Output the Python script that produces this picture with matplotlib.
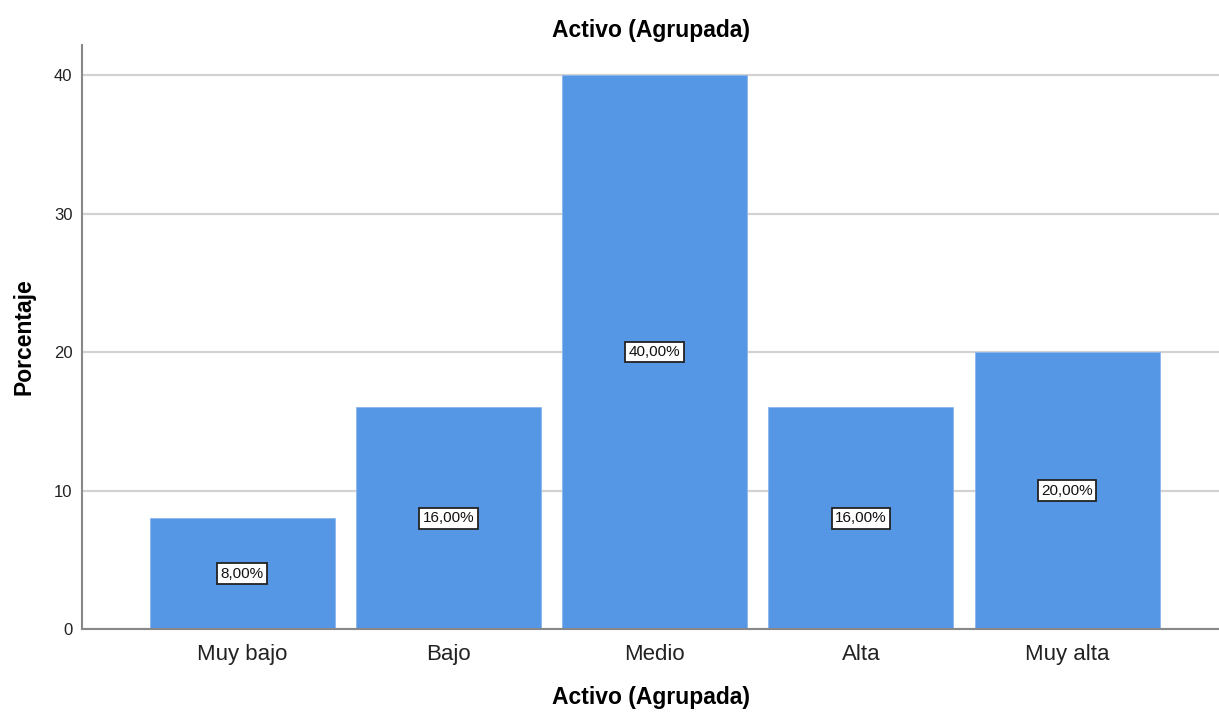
import matplotlib

matplotlib.use("Agg")
import matplotlib.pyplot as plt

categories = ["Muy bajo", "Bajo", "Medio", "Alta", "Muy alta"]
percentages = [8.0, 16.0, 40.0, 16.0, 20.0]
y_ticks = [0, 10, 20, 30, 40]

plt.rcParams["font.family"] = ["Liberation Sans", "DejaVu Sans"]

fig = plt.figure(figsize=(12.19, 7.13), dpi=100)
ax = fig.add_axes([0.0673, 0.1178, 0.9327, 0.8191])

x = list(range(len(categories)))
ax.bar(x, percentages, width=0.897, color="#5596e5", edgecolor="#8bb6ec",
       linewidth=0.6, zorder=2)

for xi, val in zip(x, percentages):
    label = f"{val:.2f}%".replace(".", ",")
    ax.text(xi, val / 2, label, ha="center", va="center", fontsize=11,
            color="#111111", zorder=3,
            bbox=dict(boxstyle="square,pad=0.22", facecolor="white",
                      edgecolor="#222222", linewidth=1.3))

ax.set_xlim(-0.776, 4.736)
ax.set_ylim(0, 42.17)
ax.set_xticks(x)
ax.set_xticklabels(categories, fontsize=16, color="#222222")
ax.set_yticks(y_ticks)
ax.set_yticklabels([str(t) for t in y_ticks], fontsize=12, color="#222222")
ax.tick_params(axis="both", length=0)
ax.tick_params(axis="x", pad=11)
ax.tick_params(axis="y", pad=7)

ax.yaxis.grid(True, color="#d2d2d2", linewidth=1.6, zorder=0)
ax.set_axisbelow(True)

for side in ("top", "right"):
    ax.spines[side].set_visible(False)
for side in ("left", "bottom"):
    ax.spines[side].set_color("#888888")
    ax.spines[side].set_linewidth(1.5)

ax.set_title("Activo (Agrupada)", fontsize=16.5, fontweight="bold", pad=6)
ax.set_xlabel("Activo (Agrupada)", fontsize=16.5, fontweight="bold", labelpad=15)
ax.set_ylabel("Porcentaje", fontsize=16.5, fontweight="bold", labelpad=13)

fig.savefig("out.png", dpi=100)
plt.close(fig)
